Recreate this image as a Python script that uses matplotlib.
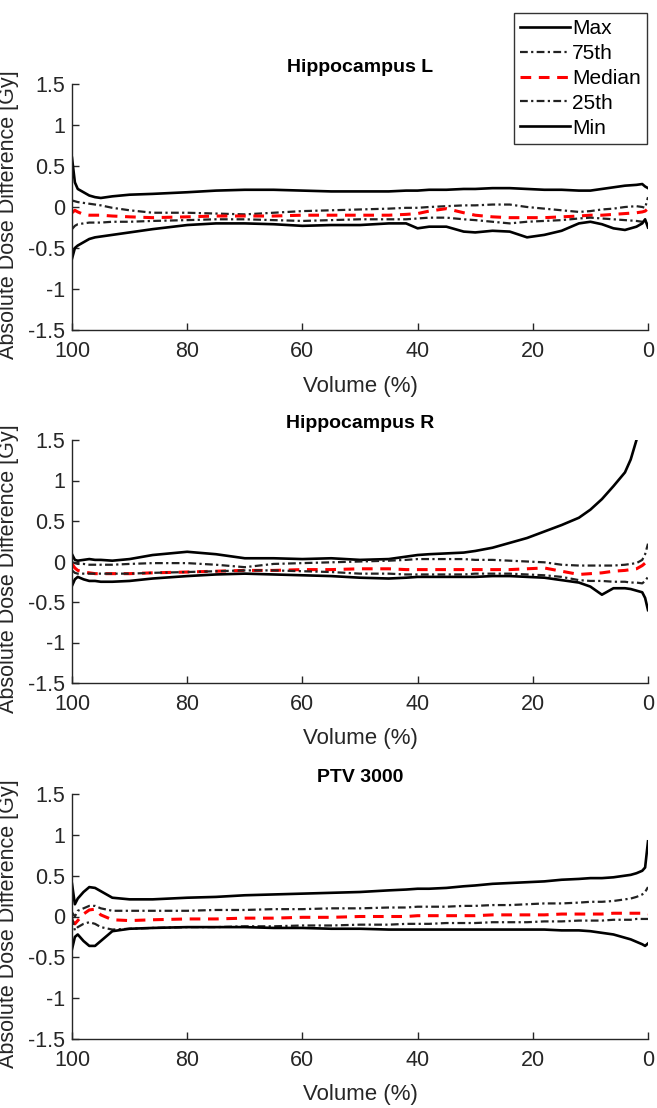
import matplotlib
matplotlib.use("Agg")
import matplotlib.pyplot as plt

plt.rcParams["font.family"] = ["Liberation Sans", "DejaVu Sans"]

# Volume grid (%), shared by all panels
volume = [100, 99.5, 99, 98, 97, 96, 95, 93, 90, 86, 80, 75, 70, 65, 60, 55, 50, 45, 42, 40,
          38, 35, 32, 30, 27, 24, 21, 18, 15, 12, 10, 8, 6, 4, 3, 2, 1, 0.5, 0]

titles = ["Hippocampus L", "Hippocampus R", "PTV 3000"]
labels = ["Max", "75th", "Median", "25th", "Min"]

# Hippocampus L
hl_max = [0.6, 0.3, 0.22, 0.18, 0.14, 0.12, 0.11, 0.13, 0.15, 0.16, 0.18, 0.2, 0.21, 0.21, 0.2, 0.19, 0.19, 0.19, 0.2, 0.2,
          0.21, 0.21, 0.22, 0.22, 0.23, 0.23, 0.22, 0.21, 0.21, 0.2, 0.2, 0.22, 0.24, 0.26, 0.265, 0.27, 0.28, 0.25, 0.23]
hl_p75 = [0.08, 0.07, 0.06, 0.05, 0.04, 0.03, 0.02, -0.01, -0.04, -0.07, -0.07, -0.08, -0.09, -0.07, -0.05, -0.04, -0.03, -0.02, -0.01, -0.01,
          0.0, 0.01, 0.02, 0.02, 0.03, 0.03, 0.0, -0.02, -0.04, -0.06, -0.05, -0.03, -0.02, 0.0, 0.005, 0.01, 0.0, -0.01, 0.12]
hl_med = [-0.07, -0.04, -0.06, -0.09, -0.1, -0.1, -0.1, -0.11, -0.12, -0.13, -0.12, -0.11, -0.11, -0.11, -0.1, -0.1, -0.1, -0.1, -0.09, -0.08,
          -0.05, -0.02, -0.07, -0.1, -0.12, -0.13, -0.13, -0.13, -0.12, -0.11, -0.1, -0.1, -0.09, -0.08, -0.075, -0.07, -0.06, -0.05, -0.02]
hl_p25 = [-0.27, -0.23, -0.21, -0.2, -0.19, -0.19, -0.19, -0.18, -0.18, -0.17, -0.16, -0.15, -0.15, -0.16, -0.17, -0.16, -0.15, -0.15, -0.15, -0.14,
          -0.13, -0.13, -0.15, -0.16, -0.18, -0.2, -0.18, -0.17, -0.16, -0.14, -0.13, -0.14, -0.15, -0.16, -0.165, -0.17, -0.18, -0.19, -0.21]
hl_min = [-0.63, -0.5, -0.47, -0.43, -0.39, -0.37, -0.36, -0.34, -0.31, -0.27, -0.22, -0.2, -0.2, -0.21, -0.23, -0.22, -0.22, -0.2, -0.2, -0.26,
          -0.24, -0.24, -0.3, -0.31, -0.29, -0.3, -0.37, -0.34, -0.29, -0.2, -0.18, -0.21, -0.26, -0.28, -0.26, -0.24, -0.2, -0.15, -0.25]

# Hippocampus R (max runs off the top of the axes near 2 %)
hr_max = [0.09, 0.02, 0.01, 0.02, 0.03, 0.02, 0.02, 0.01, 0.03, 0.08, 0.12, 0.09, 0.04, 0.04, 0.03, 0.04, 0.02, 0.03, 0.06, 0.08,
          0.09, 0.1, 0.11, 0.13, 0.17, 0.23, 0.29, 0.37, 0.45, 0.54, 0.64, 0.77, 0.93, 1.1, 1.26, 1.5, None, None, None]
hr_p75 = [-0.01, -0.02, -0.03, -0.03, -0.04, -0.04, -0.04, -0.04, -0.03, -0.02, -0.02, -0.04, -0.07, -0.03, -0.02, -0.01, 0.0, 0.01, 0.02, 0.03,
          0.03, 0.03, 0.03, 0.02, 0.02, 0.01, 0.0, -0.01, -0.04, -0.05, -0.05, -0.05, -0.05, -0.04, -0.03, -0.02, 0.02, 0.09, 0.22]
hr_med = [-0.03, -0.08, -0.11, -0.13, -0.14, -0.15, -0.15, -0.15, -0.15, -0.14, -0.13, -0.12, -0.11, -0.11, -0.1, -0.1, -0.09, -0.09, -0.1, -0.1,
          -0.1, -0.1, -0.1, -0.1, -0.1, -0.1, -0.09, -0.08, -0.12, -0.16, -0.15, -0.14, -0.12, -0.11, -0.1, -0.09, -0.05, -0.02, 0.0]
hr_p25 = [-0.11, -0.14, -0.15, -0.15, -0.15, -0.15, -0.15, -0.15, -0.15, -0.14, -0.13, -0.12, -0.11, -0.11, -0.12, -0.13, -0.15, -0.15, -0.16, -0.16,
          -0.16, -0.16, -0.16, -0.15, -0.15, -0.15, -0.16, -0.17, -0.19, -0.23, -0.24, -0.24, -0.25, -0.25, -0.26, -0.26, -0.27, -0.24, -0.19]
hr_min = [-0.3, -0.22, -0.19, -0.22, -0.24, -0.24, -0.25, -0.25, -0.24, -0.21, -0.18, -0.16, -0.15, -0.16, -0.17, -0.18, -0.2, -0.21, -0.2, -0.19,
          -0.19, -0.19, -0.19, -0.19, -0.18, -0.18, -0.19, -0.2, -0.23, -0.26, -0.31, -0.41, -0.33, -0.33, -0.34, -0.36, -0.38, -0.45, -0.6]

# PTV 3000
ptv_max = [0.4, 0.15, 0.22, 0.3, 0.36, 0.35, 0.31, 0.23, 0.21, 0.21, 0.23, 0.24, 0.26, 0.27, 0.28, 0.29, 0.3, 0.32, 0.33, 0.34,
           0.34, 0.35, 0.37, 0.38, 0.4, 0.41, 0.42, 0.43, 0.45, 0.46, 0.47, 0.47, 0.48, 0.5, 0.51, 0.53, 0.56, 0.6, 0.92]
ptv_p75 = [0.05, 0.0, 0.07, 0.1, 0.13, 0.13, 0.1, 0.07, 0.07, 0.07, 0.07, 0.08, 0.08, 0.09, 0.09, 0.1, 0.1, 0.11, 0.11, 0.12,
           0.12, 0.12, 0.13, 0.13, 0.14, 0.14, 0.15, 0.16, 0.16, 0.17, 0.18, 0.18, 0.19, 0.21, 0.22, 0.24, 0.27, 0.3, 0.36]
ptv_med = [-0.05, -0.09, -0.05, 0.03, 0.08, 0.09, 0.02, -0.04, -0.05, -0.04, -0.03, -0.03, -0.02, -0.02, -0.01, -0.01, 0.0, 0.0, 0.0, 0.01,
           0.01, 0.01, 0.01, 0.01, 0.02, 0.02, 0.02, 0.02, 0.03, 0.03, 0.03, 0.03, 0.04, 0.04, 0.04, 0.04, 0.04, 0.04, 0.03]
ptv_p25 = [-0.01, -0.17, -0.13, -0.09, -0.07, -0.09, -0.13, -0.16, -0.15, -0.14, -0.13, -0.13, -0.12, -0.12, -0.11, -0.11, -0.1, -0.1, -0.09, -0.09,
           -0.09, -0.08, -0.08, -0.08, -0.07, -0.07, -0.07, -0.06, -0.06, -0.05, -0.05, -0.05, -0.04, -0.04, -0.04, -0.03, -0.03, -0.03, -0.03]
ptv_min = [-0.4, -0.25, -0.22, -0.3, -0.36, -0.36, -0.3, -0.18, -0.15, -0.14, -0.13, -0.13, -0.13, -0.14, -0.14, -0.15, -0.15, -0.16, -0.16, -0.16,
           -0.16, -0.16, -0.16, -0.16, -0.16, -0.16, -0.16, -0.16, -0.17, -0.17, -0.18, -0.2, -0.22, -0.26, -0.28, -0.31, -0.34, -0.36, -0.33]

panels = [
    [hl_max, hl_p75, hl_med, hl_p25, hl_min],
    [hr_max, hr_p75, hr_med, hr_p25, hr_min],
    [ptv_max, ptv_p75, ptv_med, ptv_p25, ptv_min],
]

dashdot = (0, (3.5, 1.5, 1, 1.5))
styles = [
    dict(color="black", lw=1.9, ls="-"),
    dict(color="#222222", lw=1.6, ls=dashdot),
    dict(color="red", lw=2.2, ls=(0, (3.5, 2.5))),
    dict(color="#222222", lw=1.6, ls=dashdot),
    dict(color="black", lw=1.9, ls="-"),
]

fig = plt.figure(figsize=(6.57, 11.08), dpi=100)
W, H = 657, 1108
# axes boxes in pixels: (top, bottom)
boxes = [(84, 330), (440, 683), (794, 1039)]
left, right = 72, 648
axc = "#262626"

for (top, bot), title, series in zip(boxes, titles, panels):
    ax = fig.add_axes([left / W, 1 - bot / H, (right - left) / W, (bot - top) / H])
    for y, st, lab in zip(series, styles, labels):
        yy = [float("nan") if v is None else v for v in y]
        ax.plot(volume, yy, label=lab, **st)
    ax.set_xlim(100, 0)
    ax.set_ylim(-1.5, 1.5)
    ax.set_xticks([100, 80, 60, 40, 20, 0])
    ax.set_yticks([-1.5, -1, -0.5, 0, 0.5, 1, 1.5])
    ax.set_yticklabels(["-1.5", "-1", "-0.5", "0", "0.5", "1", "1.5"])
    ax.spines["top"].set_visible(False)
    ax.spines["right"].set_visible(False)
    for s in ("left", "bottom"):
        ax.spines[s].set_color(axc)
        ax.spines[s].set_linewidth(1.0)
    ax.tick_params(direction="in", length=5, width=1, colors=axc, labelsize=15.5)
    ax.tick_params(axis="x", pad=8)
    ax.tick_params(axis="y", pad=5)
    ax.set_title(title, fontsize=14, fontweight="bold", pad=9)
    ax.set_xlabel("Volume (%)", fontsize=16, color=axc)
    ax.xaxis.set_label_coords(0.5, -0.185)
    ax.set_ylabel("Absolute Dose Difference [Gy]", fontsize=15.5, color=axc)
    ax.yaxis.set_label_coords(-0.092, 0.47)
    if title == titles[0]:
        handles, labs = ax.get_legend_handles_labels()

leg = fig.legend(handles, labs, loc="upper right", bbox_to_anchor=(647 / W, 1 - 13 / H),
                 borderaxespad=0, fontsize=15, frameon=True, fancybox=False, edgecolor="black",
                 handlelength=2.4, handletextpad=0.1, labelspacing=0.28, borderpad=0.3)
leg.get_frame().set_linewidth(1.0)

fig.savefig("out.png", dpi=100)
